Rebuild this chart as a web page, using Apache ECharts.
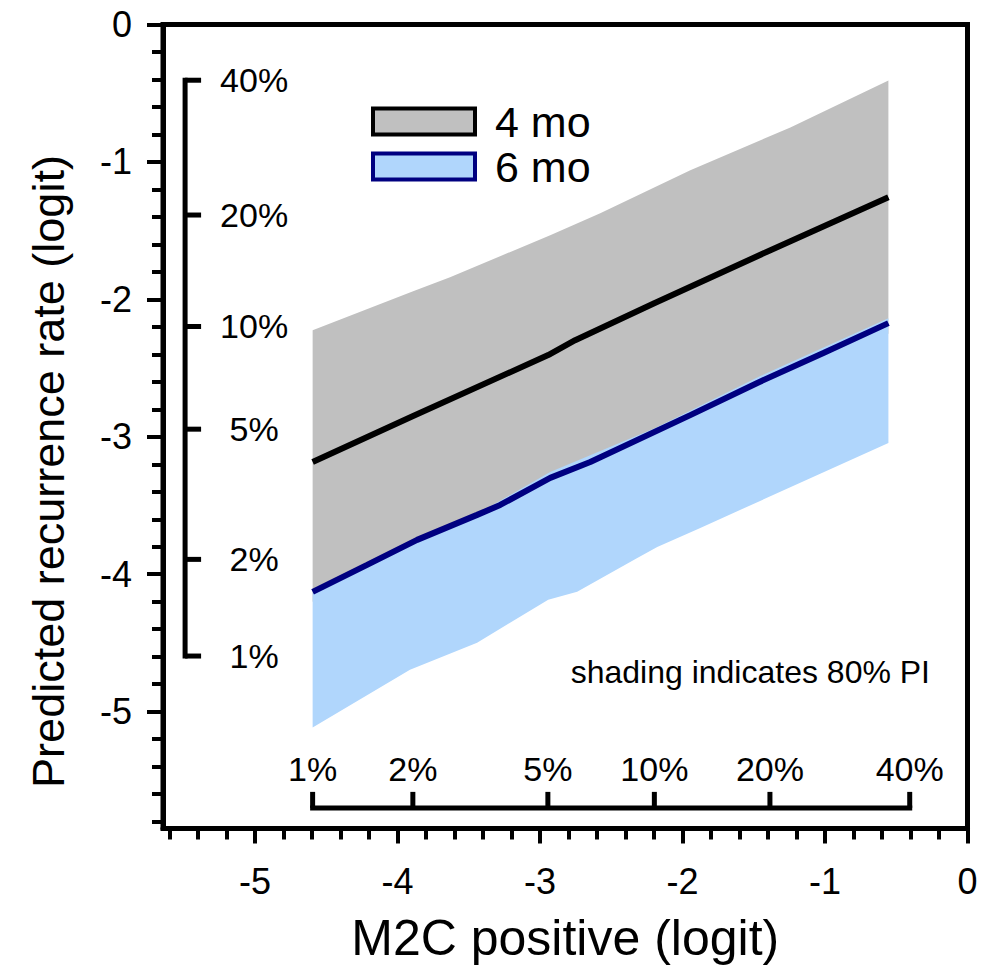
<!DOCTYPE html>
<html>
<head>
<meta charset="utf-8">
<script src="https://cdn.jsdelivr.net/npm/echarts@6/dist/echarts.min.js"></script>
<style>
  html, body { margin: 0; padding: 0; background: #fff; }
  #chart { width: 983px; height: 970px; }
</style>
</head>
<body>
<div id="chart"></div>
<script>
// 数据 (logit scale)
const xTicks = [-5, -4, -3, -2, -1, 0];
const yTicks = [0, -1, -2, -3, -4, -5];
const pctTicks = [1, 2, 5, 10, 20, 40];

// 4 mo: 80% PI band and median line
const band4UpperX = [-4.595, -3.89, -3.631, -2.928, -2.577, -1.945, -1.243, -0.555];
const band4UpperY = [-2.224, -1.94, -1.839, -1.533, -1.374, -1.061, -0.749, -0.407];
const band4LowerX = [-4.595, -2.94, -0.555];
const band4LowerY = [-4.2, -3.4, -2.25];
const line4X = [-4.595, -3.89, -2.942, -2.753, -2.198, -1.383, -0.555];
const line4Y = [-3.183, -2.849, -2.405, -2.297, -2.028, -1.642, -1.257];

// 6 mo: 80% PI band and median line
const band6UpperX = [-4.595, -3.89, -3.441, -2.928, -2.191, -1.454, -0.555];
const band6UpperY = [-4.128, -3.75, -3.561, -3.256, -2.936, -2.558, -2.137];
const band6LowerX = [-4.595, -3.912, -3.441, -2.942, -2.739, -2.317, -2.177, -1.875, -0.555];
const band6LowerY = [-5.116, -4.695, -4.498, -4.186, -4.128, -3.881, -3.801, -3.663, -3.045];
const line6X = [-4.595, -4.213, -3.862, -3.441, -3.279, -2.928, -2.647, -1.945, -1.475, -1.011, -0.555];
const line6Y = [-4.128, -3.932, -3.75, -3.568, -3.496, -3.299, -3.183, -2.842, -2.608, -2.39, -2.173];

const X_MIN = -5.645, X_MAX = 0;
const Y_MIN = -5.85, Y_MAX = 0;
const FONT = '"Liberation Sans", Arial, Helvetica, sans-serif';

function logit(p) { return Math.log(p / (100 - p)); }
function pairs(xs, ys) { return xs.map((x, i) => [x, ys[i]]); }

// minor ticks every 0.2, skipping the integer (major) ones
function minorValues(min, max) {
    const out = [];
    for (let k = Math.ceil(min / 0.2 - 1e-9); k * 0.2 <= max + 1e-9; k++) {
        if (k % 5 !== 0) out.push(+(k * 0.2).toFixed(2));
    }
    return out;
}

function bandRender(ux, uy, lx, ly, color) {
    return function (params, api) {
        if (params.dataIndex !== 0) return;
        const pts = [];
        for (let i = 0; i < ux.length; i++) pts.push(api.coord([ux[i], uy[i]]));
        for (let i = lx.length - 1; i >= 0; i--) pts.push(api.coord([lx[i], ly[i]]));
        return { type: 'polygon', shape: { points: pts }, style: { fill: color } };
    };
}

// 百分比刻度 (inner scales)
function pctScaleRender(params, api) {
    if (params.dataIndex !== 0) return;
    const kids = [];
    const lineStyle = { stroke: '#000', lineWidth: 5 };
    const textFont = '34px ' + FONT;
    // left vertical scale
    const SX = -5.49;
    const top = api.coord([SX, logit(pctTicks[pctTicks.length - 1])]);
    const bot = api.coord([SX, logit(pctTicks[0])]);
    kids.push({ type: 'line', shape: { x1: top[0], y1: top[1] - 2.5, x2: bot[0], y2: bot[1] + 2.5 }, style: lineStyle });
    pctTicks.forEach(p => {
        const c = api.coord([SX, logit(p)]);
        kids.push({ type: 'line', shape: { x1: c[0], y1: c[1], x2: c[0] + 16, y2: c[1] }, style: lineStyle });
        kids.push({ type: 'text', x: c[0] + 69, y: c[1], style: { text: p + '%', font: textFont, fill: '#000', align: 'center', verticalAlign: 'middle' } });
    });
    // bottom horizontal scale
    const SY = -5.70;
    const l = api.coord([logit(pctTicks[0]), SY]);
    const r = api.coord([logit(pctTicks[pctTicks.length - 1]), SY]);
    kids.push({ type: 'line', shape: { x1: l[0] - 2.5, y1: l[1], x2: r[0] + 2.5, y2: r[1] }, style: lineStyle });
    pctTicks.forEach(p => {
        const c = api.coord([logit(p), SY]);
        kids.push({ type: 'line', shape: { x1: c[0], y1: c[1], x2: c[0], y2: c[1] - 16 }, style: lineStyle });
        kids.push({ type: 'text', x: c[0], y: c[1] - 39, style: { text: p + '%', font: textFont, fill: '#000', align: 'center', verticalAlign: 'middle' } });
    });
    return { type: 'group', children: kids };
}

const myChart = echarts.init(document.getElementById('chart'), null, { renderer: 'svg' });
myChart.setOption({
    animation: false,
    backgroundColor: '#fff',
    grid: {
        left: 163, right: 15.5, top: 24.5, bottom: 141.5,
        show: true, borderColor: '#000', borderWidth: 5, backgroundColor: 'transparent'
    },
    legend: {
        orient: 'vertical',
        left: 366, top: 95,
        itemWidth: 102, itemHeight: 26, itemGap: 2,
        icon: 'rect',
        textStyle: { fontFamily: FONT, fontSize: 43, color: '#000', padding: [0, 0, 0, 15] },
        data: [
            { name: '4 mo', itemStyle: { color: '#c0c0c0', borderColor: '#000', borderWidth: 4 } },
            { name: '6 mo', itemStyle: { color: '#b0d6fc', borderColor: '#000080', borderWidth: 4 } }
        ]
    },
    graphic: [{
        type: 'text', right: 53, top: 656,
        style: { text: 'shading indicates 80% PI', font: '32px ' + FONT, fill: '#000' }
    }],
    xAxis: [{
        type: 'value', min: X_MIN, max: X_MAX,
        name: 'M2C positive (logit)', nameLocation: 'middle', nameGap: 84,
        nameTextStyle: { fontFamily: FONT, fontSize: 50, color: '#000' },
        axisLine: { show: true, onZero: false, lineStyle: { color: '#000', width: 5 } },
        axisTick: { show: true, inside: false, length: 15, customValues: xTicks, lineStyle: { color: '#000', width: 4 } },
        axisLabel: { customValues: xTicks, margin: 35, fontFamily: FONT, fontSize: 36, color: '#000' },
        splitLine: { show: false }
    }, {
        type: 'value', min: X_MIN, max: X_MAX, position: 'bottom',
        axisLine: { show: false, onZero: false },
        axisTick: { show: true, inside: false, length: 11, customValues: minorValues(X_MIN, X_MAX), lineStyle: { color: '#000', width: 4 } },
        axisLabel: { show: false },
        splitLine: { show: false }
    }],
    yAxis: [{
        type: 'value', min: Y_MIN, max: Y_MAX,
        name: 'Predicted recurrence rate (logit)', nameLocation: 'middle', nameGap: 92, nameRotate: 90,
        nameTextStyle: { fontFamily: FONT, fontSize: 45, color: '#000', padding: [0, 90, 0, 0] },
        axisLine: { show: true, onZero: false, lineStyle: { color: '#000', width: 5 } },
        axisTick: { show: true, inside: false, length: 16, customValues: yTicks, lineStyle: { color: '#000', width: 4 } },
        axisLabel: { customValues: yTicks, margin: 31, fontFamily: FONT, fontSize: 36, color: '#000' },
        splitLine: { show: false }
    }, {
        type: 'value', min: Y_MIN, max: Y_MAX, position: 'left',
        axisLine: { show: false, onZero: false },
        axisTick: { show: true, inside: false, length: 11, customValues: minorValues(Y_MIN, Y_MAX), lineStyle: { color: '#000', width: 4 } },
        axisLabel: { show: false },
        splitLine: { show: false }
    }],
    series: [
        {
            name: '4 mo', type: 'custom', xAxisIndex: 0, yAxisIndex: 0,
            renderItem: bandRender(band4UpperX, band4UpperY, band4LowerX, band4LowerY, '#c0c0c0'),
            itemStyle: { color: '#c0c0c0' },
            data: pairs(band4UpperX, band4UpperY), silent: true
        },
        {
            name: '6 mo', type: 'custom', xAxisIndex: 0, yAxisIndex: 0,
            renderItem: bandRender(band6UpperX, band6UpperY, band6LowerX, band6LowerY, '#b0d6fc'),
            itemStyle: { color: '#b0d6fc' },
            data: pairs(band6LowerX, band6LowerY), silent: true
        },
        {
            name: '4 mo median', type: 'line', showSymbol: false, symbol: 'none',
            lineStyle: { color: '#000', width: 6 },
            data: pairs(line4X, line4Y)
        },
        {
            name: '6 mo median', type: 'line', showSymbol: false, symbol: 'none',
            lineStyle: { color: '#000080', width: 6 },
            data: pairs(line6X, line6Y)
        },
        {
            name: 'pct scales', type: 'custom', renderItem: pctScaleRender,
            data: [[-5.49, -5.70]], silent: true
        }
    ]
});
</script>
</body>
</html>
